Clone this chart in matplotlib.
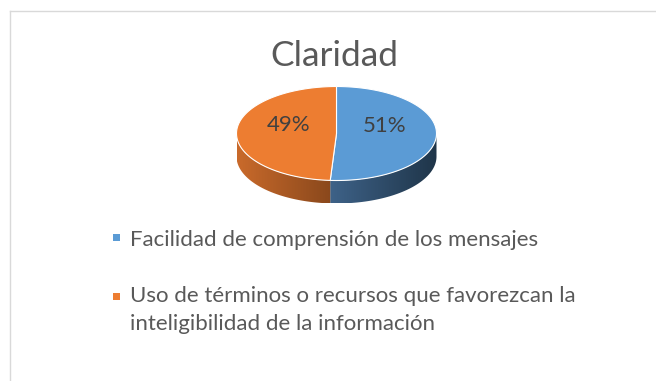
import numpy as np
import matplotlib.pyplot as plt
from matplotlib.patches import Polygon, Rectangle
from matplotlib.colors import to_rgb

titulo = "Claridad"
categorias = ["Facilidad de comprensión de los mensajes",
              "Uso de términos o recursos que favorezcan la",
              "inteligibilidad de la información"]
porcentajes = [51, 49]
colores = ["#5B9BD5", "#ED7D31"]
lado_claro = ["#3E6288", "#C96A2B"]
lado_oscuro = ["#1F3549", "#8A481C"]

plt.rcParams['font.family'] = ['Lato', 'DejaVu Sans']
gris = "#595959"

# geometria del pastel en pixeles
cx, cy = 336.5, 133.5
ra, rb = 100, 47
alto = 23


def elipse(t, dy=0):
    t = np.radians(t)
    return cx + ra * np.cos(t), cy - rb * np.sin(t) + dy


fig = plt.figure(figsize=(6.56, 3.81), dpi=100)
ax = fig.add_axes([0, 0, 1, 1])

total = sum(porcentajes)
inicio = 90
tramos = []
for v in porcentajes:
    fin = inicio - 360 * v / total
    tramos.append((fin, inicio))
    inicio = fin

# costados (solo la mitad frontal se ve)
for i, (a0, a1) in enumerate(tramos):
    for k in (-360, 0, 360):
        lo = max(a0 + k, 180)
        hi = min(a1 + k, 360)
        if hi <= lo:
            continue
        t = np.linspace(lo, hi, 120)
        x, y = elipse(t)
        xs = np.concatenate([x, x[::-1]])
        ys = np.concatenate([y, y[::-1] + alto])
        poly = Polygon(np.column_stack([xs, ys]), closed=True,
                       facecolor='none', edgecolor='none')
        ax.add_patch(poly)
        g = np.linspace(0, 1, 256)[:, None]
        c0 = np.array(to_rgb(lado_claro[i]))
        c1 = np.array(to_rgb(lado_oscuro[i]))
        img = c0 * (1 - g) + c1 * g
        im = ax.imshow(img[None, :, :], extent=[xs.min(), xs.max(), ys.max(), ys.min()],
                       aspect='auto', zorder=1, interpolation='bilinear')
        im.set_clip_path(poly)

# cara superior
for i, (a0, a1) in enumerate(tramos):
    t = np.linspace(a0, a1, 200)
    x, y = elipse(t)
    pts = np.column_stack([np.r_[cx, x], np.r_[cy, y]])
    ax.add_patch(Polygon(pts, closed=True, facecolor=colores[i],
                         edgecolor='white', lw=0.8, zorder=2))

# etiquetas de porcentaje
for (a0, a1), v in zip(tramos, porcentajes):
    mid = (a0 + a1) / 2
    x, y = elipse(mid)
    x = cx + 0.48 * (x - cx)
    y = cy + 0.48 * (y - cy) - 8
    ax.text(x, y, f"{v}%", ha='center', va='center', fontsize=16,
            color="#404040", zorder=3)

ax.text(334, 66, titulo, ha='center', va='baseline', fontsize=25.5, color=gris)

# leyenda
ax.add_patch(Rectangle((113, 234), 7, 7, color=colores[0], lw=0))
ax.add_patch(Rectangle((113, 293), 7, 7, color=colores[1], lw=0))
ax.text(130, 245.5, categorias[0], fontsize=16, color=gris, va='baseline')
ax.text(130, 302, categorias[1], fontsize=16, color=gris, va='baseline')
ax.text(130, 330, categorias[2], fontsize=16, color=gris, va='baseline')

# borde del area del grafico
ax.plot([9.5, 656], [10.5, 10.5], color="#D9D9D9", lw=1)
ax.plot([9.5, 9.5], [10.5, 381], color="#D9D9D9", lw=1)

ax.set_xlim(0, 656)
ax.set_ylim(381, 0)
ax.axis('off')
fig.savefig("out.png", dpi=100)
